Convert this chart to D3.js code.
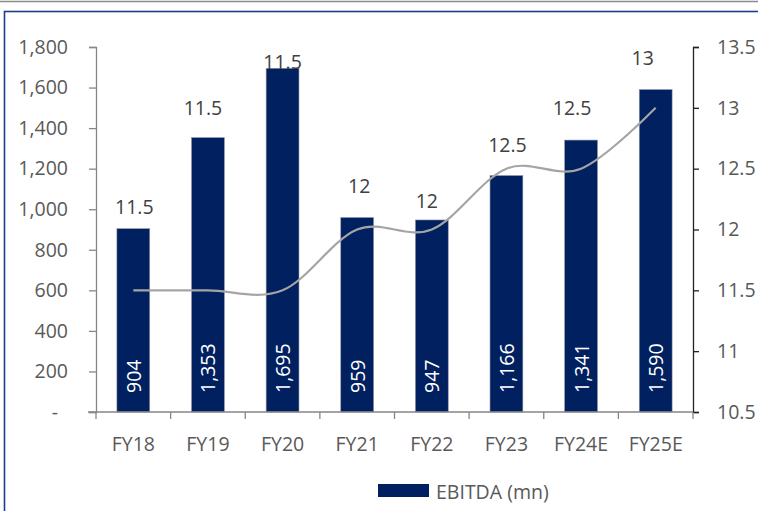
<!DOCTYPE html>
<html><head><meta charset="utf-8">
<script src="https://cdn.jsdelivr.net/npm/d3@7"></script>
<style>
html,body{margin:0;padding:0;background:#fff;}
svg{display:block;}
text{font-family:"Open Sans",sans-serif;}
</style></head>
<body>
<svg id="chart" width="758" height="511"></svg>
<script>
// ---- data ----
const categories = ["FY18","FY19","FY20","FY21","FY22","FY23","FY24E","FY25E"];
const ebitda = [904,1353,1695,959,947,1166,1341,1590];
const lineValues = [11.5,11.5,11.5,12,12,12.5,12.5,13];
const leftTicks = [0,200,400,600,800,1000,1200,1400,1600,1800];
const rightTicks = [10.5,11,11.5,12,12.5,13,13.5];
const legendLabel = "EBITDA (mn)";

// ---- layout (manual label placement as in the reference) ----
const labelLift = [22,30,7,32,19,31,33,32];
const labelShift = [1,-5,0,2,-5,1,-9,-13];

const svg = d3.select("#chart");
const W = 758, H = 511;
const pL = 96, pR = 693, pT = 47, pB = 412;
const textColor = "#595959";
const fs = 19.5;

// frame
svg.append("line").attr("x1",0).attr("x2",W).attr("y1",1.5).attr("y2",1.5)
  .attr("stroke","#8a8a8a").attr("stroke-width",1.5);
svg.append("rect").attr("x",4.5).attr("y",11.5).attr("width",900).attr("height",700)
  .attr("fill","none").attr("stroke","#1f3c88").attr("stroke-width",1.6);

const x = d3.scaleBand().domain(categories).range([pL,pR]).paddingInner(0.56).paddingOuter(0.28);
const yL = d3.scaleLinear().domain([0,1800]).range([pB,pT]);
const yR = d3.scaleLinear().domain([10.5,13.5]).range([pB,pT]);
const step = (pR-pL)/categories.length;

// bars
svg.append("g").selectAll("rect").data(ebitda).join("rect")
  .attr("x",(d,i)=>x(categories[i]))
  .attr("width",x.bandwidth())
  .attr("y",d=>yL(d))
  .attr("height",d=>pB-yL(d))
  .attr("fill","#002060")
  .attr("stroke","#8c95a8").attr("stroke-width",0.6);

// left axis
const gL = svg.append("g").attr("transform",`translate(${pL},0)`)
  .call(d3.axisLeft(yL).tickValues(leftTicks).tickSize(7).tickPadding(21)
    .tickFormat(d=>d===0?"-":d3.format(",")(d)));
gL.select(".domain").attr("stroke","#868686").attr("stroke-width",1.3);
gL.selectAll(".tick line").attr("stroke","#868686").attr("stroke-width",1.3);
gL.selectAll(".tick text").attr("fill",textColor).style("font-size",fs+"px")
  .style("font-family","'Open Sans',sans-serif")
  .attr("dx",d=>d===0?-10:0);

// right axis
const gR = svg.append("g").attr("transform",`translate(${pR},0)`)
  .call(d3.axisRight(yR).tickValues(rightTicks).tickSize(6).tickPadding(18)
    .tickFormat(d=>String(d)));
gR.select(".domain").attr("stroke","#222").attr("stroke-width",1.3);
gR.selectAll(".tick line").attr("stroke","#222").attr("stroke-width",1.3);
gR.selectAll(".tick text").attr("fill",textColor).style("font-size",fs+"px")
  .style("font-family","'Open Sans',sans-serif");

// bottom axis
const gB = svg.append("g");
gB.append("line").attr("x1",pL-8).attr("x2",pR).attr("y1",pB).attr("y2",pB)
  .attr("stroke","#868686").attr("stroke-width",1.3);
gB.selectAll("line.tk").data(d3.range(categories.length+1)).join("line").attr("class","tk")
  .attr("x1",i=>pL+i*step).attr("x2",i=>pL+i*step)
  .attr("y1",pB).attr("y2",pB+7)
  .attr("stroke","#868686").attr("stroke-width",1.3);
gB.selectAll("text").data(categories).join("text")
  .attr("x",d=>x(d)+x.bandwidth()/2).attr("y",443)
  .attr("text-anchor","middle").attr("dominant-baseline","central")
  .attr("fill",textColor).style("font-size",fs+"px").text(d=>d);

// inside bar value labels (rotated)
svg.append("g").selectAll("text").data(ebitda).join("text")
  .attr("transform",(d,i)=>`translate(${x(categories[i])+x.bandwidth()/2},${pB-19}) rotate(-90)`)
  .attr("text-anchor","start").attr("dominant-baseline","central")
  .attr("fill","#fff").style("font-size",fs+"px")
  .text(d=>d3.format(",")(d));

// line
const line = d3.line()
  .x((d,i)=>x(categories[i])+x.bandwidth()/2)
  .y(d=>yR(d))
  .curve(d3.curveCardinal.tension(0));
svg.append("path").datum(lineValues).attr("d",line)
  .attr("fill","none").attr("stroke","#a5a5a5").attr("stroke-width",2.2);

// line value labels
svg.append("g").selectAll("text").data(lineValues).join("text")
  .attr("x",(d,i)=>x(categories[i])+x.bandwidth()/2+labelShift[i])
  .attr("y",(d,i)=>yL(ebitda[i])-labelLift[i])
  .attr("text-anchor","middle").attr("dominant-baseline","central")
  .attr("fill","#404040").style("font-size",fs+"px")
  .text(d=>String(d));

// legend
svg.append("rect").attr("x",378).attr("y",484).attr("width",51).attr("height",13).attr("fill","#002060");
svg.append("text").attr("x",436).attr("y",491).attr("dominant-baseline","central")
  .attr("fill",textColor).style("font-size",fs+"px").text(legendLabel);
</script>
</body></html>
